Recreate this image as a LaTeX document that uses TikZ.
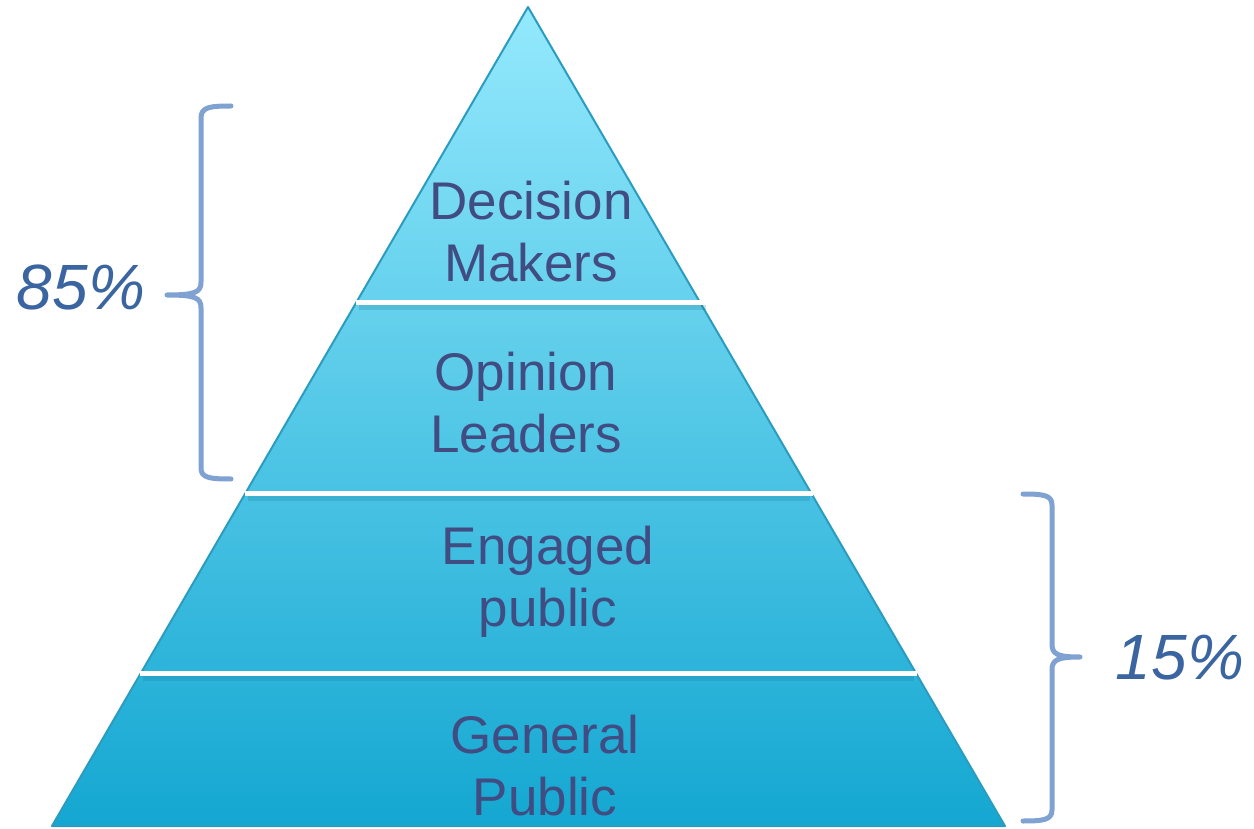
\documentclass[tikz,border=0pt]{standalone}
\usepackage{fontspec}
\setmainfont{Liberation Sans}
\definecolor{pyrtop}{HTML}{94E9FD}
\definecolor{pyrmid}{HTML}{5CCAEA}
\definecolor{pyrbot}{HTML}{14A7D1}
\definecolor{pyredge}{HTML}{2B9CC0}
\definecolor{txtcol}{HTML}{404C82}
\definecolor{pctcol}{HTML}{3A65A0}
\definecolor{bracecol}{HTML}{7FA2D2}
\definecolor{shadowcol}{HTML}{0E6E8A}
\tikzset{
  layertext/.style={text=txtcol, align=center, font=\fontsize{53}{62}\selectfont, inner sep=0pt},
  pcttext/.style={text=pctcol, font=\fontsize{64}{70}\selectfont\itshape, inner sep=0pt},
  bracestyle/.style={draw=bracecol, line width=5pt, line cap=round, line join=round},
  sepline/.style={draw=white, line width=5pt},
  sepshadow/.style={draw=shadowcol, line width=5pt, opacity=0.2},
}
\begin{document}
\begin{tikzpicture}[x=1pt,y=-1pt]
\useasboundingbox (0,0) rectangle (1254,829);
% pyramid
\shade[top color=pyrtop, middle color=pyrmid, bottom color=pyrbot, draw=pyredge, line width=2pt, line join=round]
  (528,7) -- (1005,826) -- (52,826) -- cycle;
% separator lines with shadows
\foreach \ya/\xl/\xr in {303/356/709, 493/245/813, 673/140/917}{
  \draw[sepshadow] (\xl+3,\ya+5) -- (\xr-3,\ya+5);
  \draw[sepline] (\xl,\ya) -- (\xr,\ya);
}
% layer labels
\node[layertext] (dm) at (531,232) {Decision\\Makers};
\node[layertext] (ol) at (526,403) {Opinion\\Leaders};
\node[layertext] (ep) at (548,582) {Engaged\\public};
\node[layertext] (gp) at (545,766) {General\\Public};
% braces
\draw[bracestyle] (231,106) .. controls (210,106) and (201,107) .. (201,118)
  -- (201,282) .. controls (201,292) and (196,295) .. (167,295)
  .. controls (196,295) and (201,298) .. (201,308)
  -- (201,468) .. controls (201,478) and (210,479) .. (231,479);
\draw[bracestyle] (1023,494) .. controls (1043,494) and (1052,495) .. (1052,505)
  -- (1052,644) .. controls (1052,654) and (1057,657) .. (1080,657)
  .. controls (1057,657) and (1052,660) .. (1052,670)
  -- (1052,810) .. controls (1052,820) and (1043,821) .. (1023,821);
% percentages
\node[pcttext] (p85) at (81,287) {85\%};
\node[pcttext] (p15) at (1180,658) {15\%};
\end{tikzpicture}
\end{document}
